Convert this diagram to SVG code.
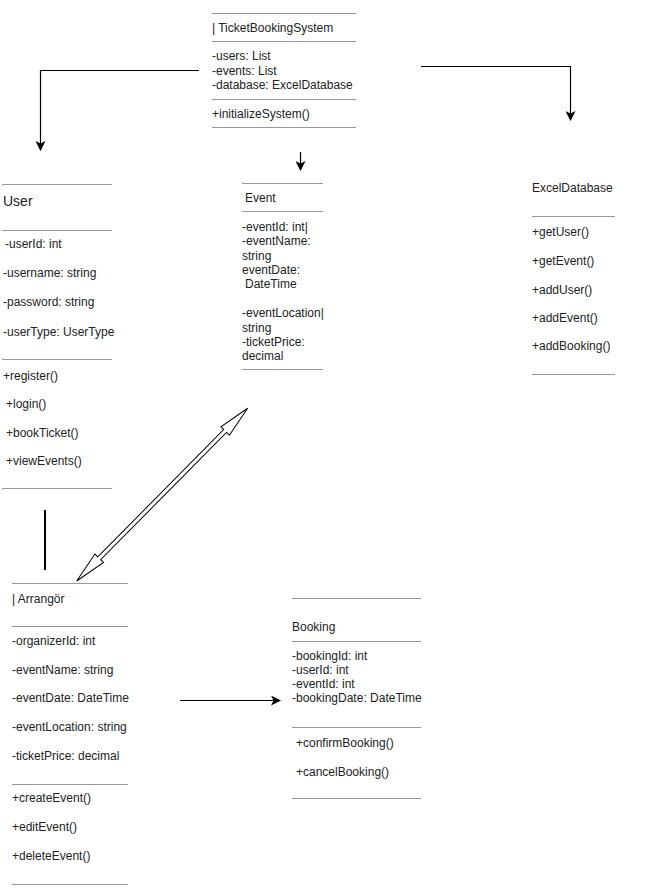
<svg xmlns="http://www.w3.org/2000/svg" width="650" height="891" viewBox="0 0 650 891">
<defs>
<marker id="arr" viewBox="0 0 10 10" refX="9" refY="5" markerWidth="10" markerHeight="10" markerUnits="userSpaceOnUse" orient="auto">
<path d="M0,0 L10,5 L0,10 L2.5,5 z" fill="#000"/>
</marker>
<style>
text{font-family:"Liberation Sans",Arial,sans-serif;font-size:12px;fill:#222}
.t{font-size:14px}
.sep{stroke:#999;stroke-width:1}
.c{stroke:#000;stroke-width:1.2;fill:none}
</style>
</defs>
<rect width="650" height="891" fill="#fff"/>

<g id="TicketBookingSystem">
<line class="sep" x1="212" y1="13.5" x2="356" y2="13.5"/>
<text x="212" y="32">| TicketBookingSystem</text>
<line class="sep" x1="212" y1="41.5" x2="356" y2="41.5"/>
<text x="212" y="60">-users: List</text>
<text x="212" y="75">-events: List</text>
<text x="212" y="89">-database: ExcelDatabase</text>
<line class="sep" x1="212" y1="99.5" x2="356" y2="99.5"/>
<text x="212" y="118">+initializeSystem()</text>
<line class="sep" x1="212" y1="127.5" x2="356" y2="127.5"/>
</g>

<g id="User">
<line class="sep" x1="2" y1="184.5" x2="112" y2="184.5"/>
<text class="t" x="3" y="206">User</text>
<line class="sep" x1="2" y1="230.5" x2="112" y2="230.5"/>
<text x="5" y="248">-userId: int</text>
<text x="3" y="277">-username: string</text>
<text x="3" y="306">-password: string</text>
<text x="3" y="336">-userType: UserType</text>
<line class="sep" x1="2" y1="359.5" x2="112" y2="359.5"/>
<text x="3" y="380">+register()</text>
<text x="6" y="408">+login()</text>
<text x="6" y="437">+bookTicket()</text>
<text x="6" y="465">+viewEvents()</text>
<line class="sep" x1="2" y1="488.5" x2="112" y2="488.5"/>
</g>

<g id="Event">
<line class="sep" x1="242" y1="183.5" x2="323" y2="183.5"/>
<text x="245" y="202">Event</text>
<line class="sep" x1="242" y1="211.5" x2="323" y2="211.5"/>
<text x="242" y="231">-eventId: int|</text>
<text x="242" y="245">-eventName:</text>
<text x="242" y="260">string</text>
<text x="242" y="274">eventDate:</text>
<text x="245" y="288">DateTime</text>
<text x="242" y="317">-eventLocation|</text>
<text x="242" y="332">string</text>
<text x="242" y="346">-ticketPrice:</text>
<text x="242" y="360">decimal</text>
<line class="sep" x1="242" y1="369.5" x2="323" y2="369.5"/>
</g>

<g id="ExcelDatabase">
<text x="532" y="192">ExcelDatabase</text>
<line class="sep" x1="532" y1="216.5" x2="615" y2="216.5"/>
<text x="532" y="236">+getUser()</text>
<text x="532" y="265">+getEvent()</text>
<text x="532" y="294">+addUser()</text>
<text x="532" y="322">+addEvent()</text>
<text x="532" y="350">+addBooking()</text>
<line class="sep" x1="532" y1="374.5" x2="615" y2="374.5"/>
</g>

<g id="Arrangor">
<line class="sep" x1="12" y1="583.5" x2="128" y2="583.5"/>
<text x="12" y="603">| Arrangör</text>
<line class="sep" x1="12" y1="626.5" x2="128" y2="626.5"/>
<text x="12" y="645">-organizerId: int</text>
<text x="12" y="674">-eventName: string</text>
<text x="12" y="702">-eventDate: DateTime</text>
<text x="12" y="731">-eventLocation: string</text>
<text x="12" y="760">-ticketPrice: decimal</text>
<line class="sep" x1="12" y1="784.5" x2="128" y2="784.5"/>
<text x="12" y="802">+createEvent()</text>
<text x="12" y="831">+editEvent()</text>
<text x="12" y="860">+deleteEvent()</text>
<line class="sep" x1="12" y1="884.5" x2="128" y2="884.5"/>
</g>

<g id="Booking">
<line class="sep" x1="292" y1="598.5" x2="421" y2="598.5"/>
<text x="292" y="631">Booking</text>
<line class="sep" x1="292" y1="641.5" x2="421" y2="641.5"/>
<text x="292" y="660">-bookingId: int</text>
<text x="292" y="674">-userId: int</text>
<text x="292" y="688">-eventId: int</text>
<text x="292" y="702">-bookingDate: DateTime</text>
<line class="sep" x1="292" y1="727.5" x2="421" y2="727.5"/>
<text x="296" y="747">+confirmBooking()</text>
<text x="296" y="776">+cancelBooking()</text>
<line class="sep" x1="292" y1="798.5" x2="421" y2="798.5"/>
</g>

<g id="connectors">
<path class="c" d="M199,70.5 H40.5 V150" marker-end="url(#arr)"/>
<path class="c" d="M421,66.5 H570.5 V120" marker-end="url(#arr)"/>
<path class="c" d="M300.5,152 V170" marker-end="url(#arr)"/>
<path class="c" d="M180,700.5 H280" marker-end="url(#arr)"/>
<line x1="45" y1="510" x2="45" y2="570" stroke="#000" stroke-width="2"/>
<polygon transform="translate(76.7,581) rotate(-45.3)" points="0,0 32,-6 32,-2 211,-2 211,-6 243,0 211,6 211,2 32,2 32,6" fill="#fff" stroke="#000" stroke-width="1"/>
</g>
</svg>
